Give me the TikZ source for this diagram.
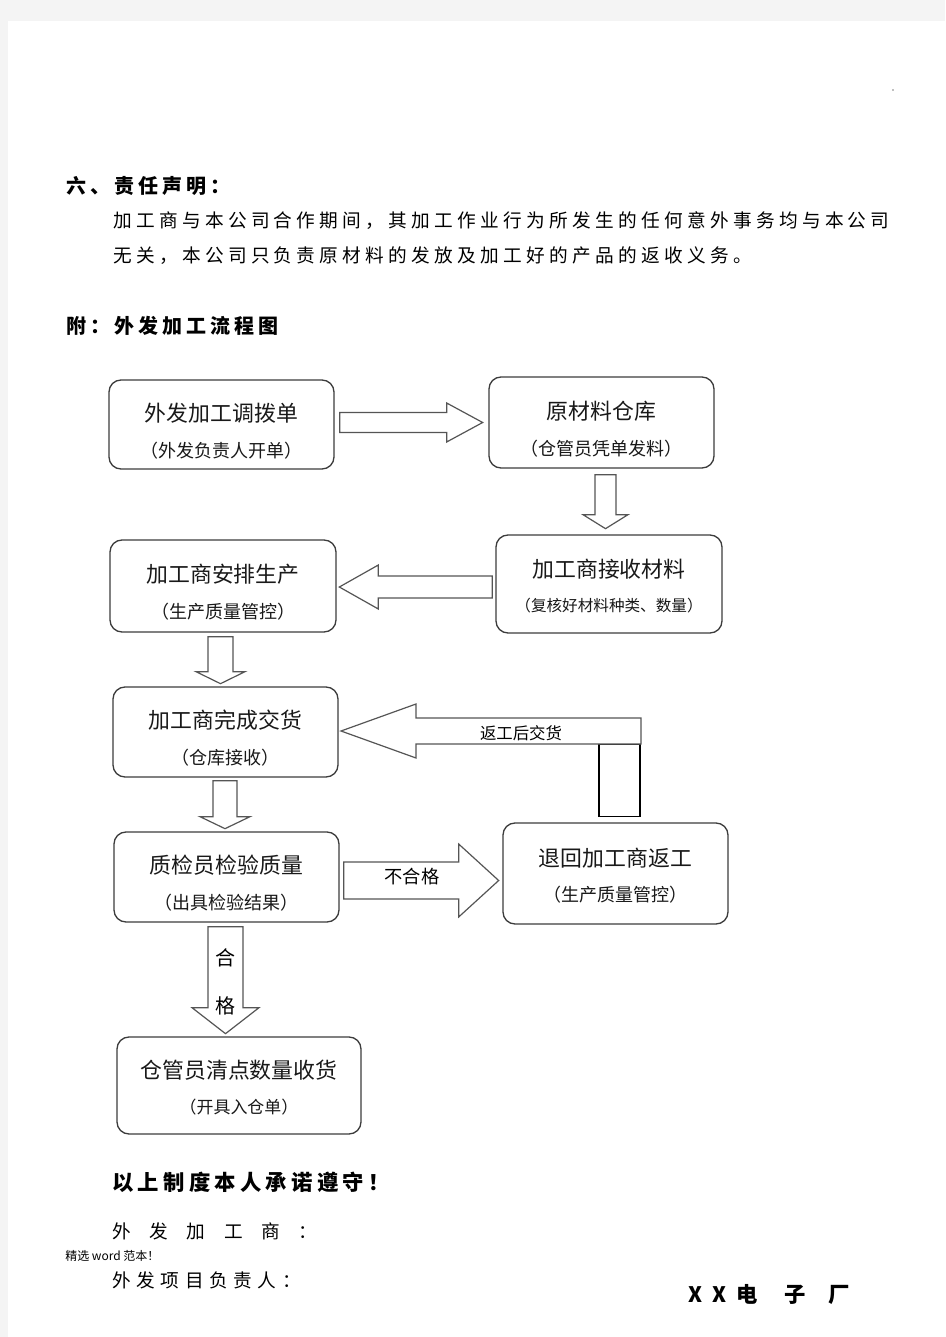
\documentclass[tikz,border=0pt]{standalone}
\usepackage{fontspec}
\usepackage{xcolor}
\usetikzlibrary{calc,fit}
\newfontfamily\cjk{Noto Sans CJK SC}
\newfontfamily\cjkwide{Noto Sans CJK SC}[LetterSpace=23]
\newfontfamily\cjkhead{Noto Sans CJK SC}[LetterSpace=20]
\newfontfamily\cjksign{Noto Sans CJK SC}[LetterSpace=30]
\newfontfamily\cjkspread{Noto Sans CJK SC}[LetterSpace=100]
\definecolor{pagegray}{RGB}{244,244,244}
\definecolor{boxline}{RGB}{60,60,60}
\definecolor{arrowline}{RGB}{85,85,85}
\definecolor{boxtext}{RGB}{25,25,25}

% block arrow: tail point, angle, length, head length, shaft half, head half
\newcommand{\blockarr}[6]{%
  \draw[blk,shift={#1},rotate=#2] (0,-#5) -- ({#3-#4},-#5) -- ({#3-#4},-#6) -- (#3,0)
    -- ({#3-#4},#6) -- ({#3-#4},#5) -- (0,#5) -- cycle;}

\tikzset{
  box/.style={draw=boxline, line width=1pt, rounded corners=9pt, inner sep=0pt},
  big/.style={font=\cjk\fontsize{16.4}{19}\selectfont, text=boxtext, inner sep=0pt},
  sub/.style={font=\cjk\fontsize{13.5}{16}\selectfont, text=boxtext, inner sep=0pt},
  blk/.style={draw=arrowline, line width=0.9pt, fill=white, line join=miter},
  head/.style={font=\cjkhead\bfseries\fontsize{15}{18}\selectfont, anchor=west, inner sep=0pt},
  para/.style={font=\cjkwide\fontsize{14}{16}\selectfont, anchor=west, inner sep=0pt},
  lbl/.style={font=\cjk\fontsize{12.3}{15}\selectfont, inner sep=0pt}
}

\begin{document}
\begin{tikzpicture}[x=0.75pt,y=-0.75pt]
    \useasboundingbox (0,0) rectangle (945,1337);
    % page
    \fill[white] (0,0) rectangle (945,1337);
    \fill[pagegray] (0,0) rectangle (945,21);
    \fill[pagegray] (0,0) rectangle (8,1337);
    \fill[gray] (893,90) circle (0.8);

    % text above the chart
    \node[head] (sec6) at (66,186) {六、责任声明：};
    \node[para] (para1) at (113,221) {加工商与本公司合作期间，其加工作业行为所发生的任何意外事务均与本公司};
    \node[para] (para2) at (113,256) {无关，本公司只负责原材料的发放及加工好的产品的返收义务。};
    \node[head] (fu) at (66,326) {附：外发加工流程图};

    % boxes
    \node[box, fit={(109,380) (334,469)}] (diaobo) {};
    \node[big] (diaoboT) at ($(diaobo.north)+(0,34)$) {外发加工调拨单};
    \node[sub] (diaoboS) at ($(diaobo.north)+(0,71)$) {（外发负责人开单）};

    \node[box, fit={(489,377) (714,468)}] (yuanliao) {};
    \node[big] (yuanliaoT) at ($(yuanliao.north)+(0,35)$) {原材料仓库};
    \node[sub] (yuanliaoS) at ($(yuanliao.north)+(0,72)$) {（仓管员凭单发料）};

    \node[box, fit={(496,535) (722,633)}] (jieshou) {};
    \node[big] (jieshouT) at ($(jieshou.north)+(0,35)$) {加工商接收材料};
    \node[sub, font=\cjk\fontsize{11.7}{14}\selectfont] (jieshouS) at ($(jieshou.north)+(0,71)$) {（复核好材料种类、数量）};

    \node[box, fit={(110,540) (336,632)}] (anpai) {};
    \node[big] (anpaiT) at ($(anpai.north)+(0,35)$) {加工商安排生产};
    \node[sub] (anpaiS) at ($(anpai.north)+(0,72)$) {（生产质量管控）};

    \node[box, fit={(113,687) (338,777)}] (wancheng) {};
    \node[big] (wanchengT) at ($(wancheng.north)+(0,34)$) {加工商完成交货};
    \node[sub] (wanchengS) at ($(wancheng.north)+(0,71)$) {（仓库接收）};

    \node[box, fit={(114,832) (339,922)}] (jianyan) {};
    \node[big] (jianyanT) at ($(jianyan.north)+(0,34)$) {质检员检验质量};
    \node[sub] (jianyanS) at ($(jianyan.north)+(0,71)$) {（出具检验结果）};

    \node[box, fit={(503,823) (728,924)}] (fangong) {};
    \node[big] (fangongT) at ($(fangong.north)+(0,36)$) {退回加工商返工};
    \node[sub] (fangongS) at ($(fangong.north)+(0,72)$) {（生产质量管控）};

    \node[box, fit={(117,1037) (361,1134)}] (shouhuo) {};
    \node[big] (shouhuoT) at ($(shouhuo.north)+(0,34)$) {仓管员清点数量收货};
    \node[sub, font=\cjk\fontsize{12.7}{15}\selectfont] (shouhuoS) at ($(shouhuo.north)+(0,71)$) {（开具入仓单）};

    % block arrows
    \blockarr{($(diaobo.east)+(5,-2)$)}{0}{143}{36}{10}{19.5}
    \blockarr{($(yuanliao.south)+(4,6)$)}{-90}{54}{14}{10.5}{22.5}
    \blockarr{($(jieshou.west)+(-3,3)$)}{180}{153}{39}{11}{22}
    \blockarr{($(anpai.south)+(-2.5,4)$)}{-90}{47}{12}{12.5}{24.5}
    \blockarr{($(wancheng.south)+(-0.5,3)$)}{-90}{48}{12}{12}{25}

    % back from rework
    \draw[black, line width=1.2pt, fill=white] ($(fangong.north)+(-16.5,-6)$) rectangle (640,744);
    \coordinate (back) at (641,731);
    \blockarr{(back)}{180}{300}{75}{13}{27}
    \node[lbl, text=black] (backL) at (521,733) {返工后交货};

    \blockarr{($(jianyan.east)+(4,3.5)$)}{0}{155}{40}{18.5}{36.5}
    \node[lbl, font=\cjk\fontsize{13.7}{16}\selectfont] (buhege) at (412,877) {不合格};

    \blockarr{($(jianyan.south)+(-1,4)$)}{-90}{107}{26}{17.5}{33.5}
    \node[lbl, font=\cjk\fontsize{15}{18}\selectfont] (he) at (225,958) {合};
    \node[lbl, font=\cjk\fontsize{15}{18}\selectfont] (ge) at (225,1006) {格};

    % signatures
    \node[head, font=\cjkhead\bfseries\fontsize{16}{19}\selectfont] (promise) at (112,1182) {以上制度本人承诺遵守！};
    \node[font=\cjkspread\fontsize{14}{16}\selectfont, anchor=west, inner sep=0pt] (jgs) at (112,1231) {外发加工商：};
    \node[font=\cjk\fontsize{9}{11}\selectfont, anchor=west, inner sep=0pt] (word) at (65,1256) {精选 word 范本！};
    \node[font=\cjksign\fontsize{14}{16}\selectfont, anchor=west, inner sep=0pt] (fzr) at (112,1280) {外发项目负责人：};
    \node[font=\cjk\bfseries\fontsize{16}{19}\selectfont, anchor=west, inner sep=0pt] (factory) at (688,1294)
        {X\hspace{8pt}X\hspace{7.5pt}电\hspace{20pt}子\hspace{16.5pt}厂};
\end{tikzpicture}
\end{document}
